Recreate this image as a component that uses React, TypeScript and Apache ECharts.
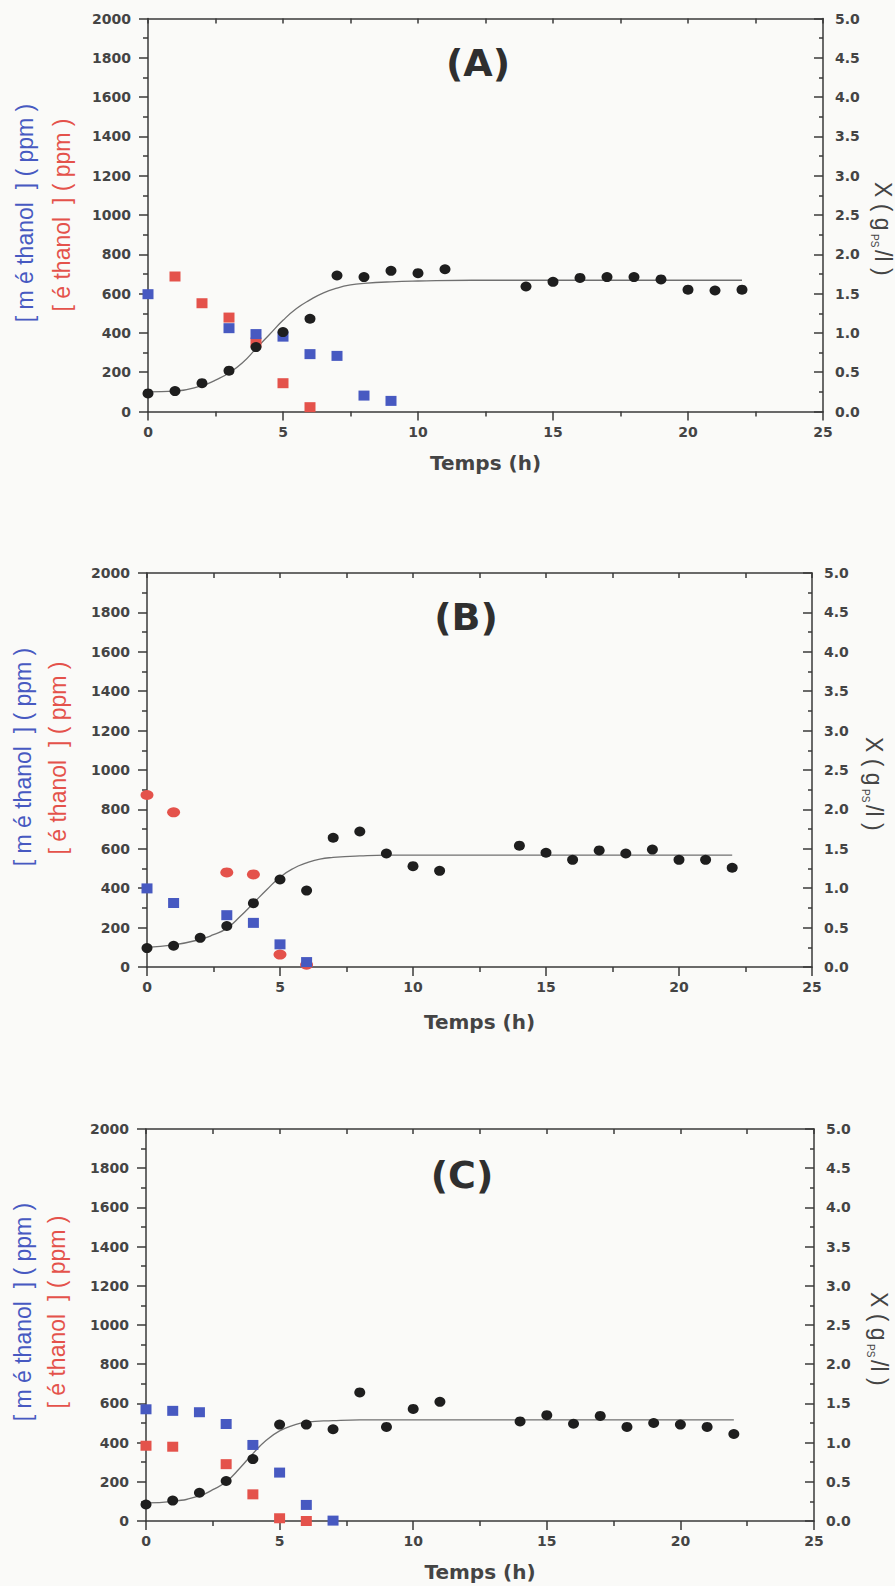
import React, { useEffect, useRef } from "react";
import * as echarts from "echarts";

// ---------- DATA ----------
const panelTitles = ["(A)", "(B)", "(C)"];
const xAxisName = "Temps (h)";

// biomass sampling times (h)
const timeX = [0, 1, 2, 3, 4, 5, 6, 7, 8, 9, 10, 11, 14, 15, 16, 17, 18, 19, 20, 21, 22];

// Panel A
const biomassA = [0.23, 0.26, 0.36, 0.52, 0.82, 1.01, 1.18, 1.73, 1.71, 1.79, 1.76, 1.81, 1.59, 1.65, 1.7, 1.71, 1.71, 1.68, 1.55, 1.54, 1.55];
const methTimeA = [0, 3, 4, 5, 6, 7, 8, 9];
const methA = [597, 424, 394, 381, 292, 283, 81, 54];
const ethTimeA = [1, 2, 3, 4, 5, 6];
const ethA = [687, 551, 478, 351, 144, 22];
const fitTimeA = [0, 1, 2, 2.5, 3, 3.5, 4, 4.5, 5, 5.5, 6, 6.5, 7, 7.5, 8, 9, 10, 12, 15, 22];
const fitA = [0.25, 0.26, 0.33, 0.4, 0.49, 0.62, 0.8, 0.98, 1.16, 1.31, 1.42, 1.51, 1.57, 1.61, 1.63, 1.65, 1.66, 1.67, 1.67, 1.67];

// Panel B
const biomassB = [0.24, 0.27, 0.37, 0.52, 0.81, 1.11, 0.97, 1.64, 1.72, 1.44, 1.28, 1.22, 1.54, 1.45, 1.36, 1.48, 1.44, 1.49, 1.36, 1.36, 1.26];
const methTimeB = [0, 1, 3, 4, 5, 6];
const methB = [399, 325, 263, 224, 115, 25];
const ethTimeB = [0, 1, 3, 4, 5, 6];
const ethB = [873, 785, 480, 470, 63, 12];
const fitTimeB = [0, 1, 2, 2.5, 3, 3.5, 4, 4.5, 5, 5.5, 6, 6.5, 7, 8, 9, 10, 15, 22];
const fitB = [0.25, 0.28, 0.35, 0.41, 0.49, 0.64, 0.81, 0.98, 1.14, 1.25, 1.32, 1.37, 1.39, 1.41, 1.42, 1.42, 1.42, 1.42];

// Panel C
const biomassC = [0.21, 0.26, 0.36, 0.51, 0.79, 1.23, 1.23, 1.17, 1.64, 1.2, 1.43, 1.52, 1.27, 1.35, 1.24, 1.34, 1.2, 1.25, 1.23, 1.2, 1.11];
const methTimeC = [0, 1, 2, 3, 4, 5, 6, 7];
const methC = [570, 562, 555, 495, 388, 247, 82, 2];
const ethTimeC = [0, 1, 3, 4, 5, 6];
const ethC = [384, 379, 290, 136, 14, 0];
const fitTimeC = [0, 1, 2, 2.5, 3, 3.5, 4, 4.5, 5, 5.5, 6, 7, 8, 10, 15, 22];
const fitC = [0.23, 0.25, 0.32, 0.4, 0.5, 0.67, 0.86, 1.03, 1.15, 1.22, 1.26, 1.28, 1.29, 1.29, 1.29, 1.29];

// ---------- LAYOUT / STYLE ----------
const grids = [
  { left: 148, top: 18.5, width: 675, height: 393 },
  { left: 147, top: 573, width: 665, height: 394 },
  { left: 146, top: 1129, width: 668, height: 392 },
];
const titlePos = [
  [478, 63],
  [466, 617],
  [462, 1175],
];
const nameGaps = [41, 45, 41];
const leftNamePos = [
  { blue: [25, 213], red: [62, 215] },
  { blue: [23, 757], red: [58, 758] },
  { blue: [23, 1312], red: [57, 1312] },
];
const rightNamePos = [
  [883, 182],
  [874, 737],
  [879, 1292],
];

const AXIS = "#3a3a3a";
const LABEL = "#444444";
const BLUE = "#4759c1";
const RED = "#e4524b";
const BLACK = "#1e1e1e";
const FIT = "#707070";

const zip = (a: number[], b: number[]) => a.map((v, i) => [v, b[i]]);

const panels = [
  { bio: biomassA, mt: methTimeA, m: methA, et: ethTimeA, e: ethA, ft: fitTimeA, f: fitA, ethSym: "rect" },
  { bio: biomassB, mt: methTimeB, m: methB, et: ethTimeB, e: ethB, ft: fitTimeB, f: fitB, ethSym: "circle" },
  { bio: biomassC, mt: methTimeC, m: methC, et: ethTimeC, e: ethC, ft: fitTimeC, f: fitC, ethSym: "rect" },
];

function buildOption() {
  const lineStyle = { color: AXIS, width: 1.5 };
  const tickFont = { fontFamily: "DejaVu Sans", fontWeight: "bold" as const, fontSize: 14, color: LABEL };
  const xAxis: any[] = [];
  const yAxis: any[] = [];
  const series: any[] = [];
  const graphic: any[] = [];

  grids.forEach((_, i) => {
    xAxis.push({
      type: "value", gridIndex: i, position: "bottom", min: 0, max: 25, interval: 5,
      axisLine: { show: true, onZero: false, lineStyle },
      axisTick: { show: true, inside: false, length: 9, lineStyle },
      minorTick: { show: true, splitNumber: 2, length: 5, lineStyle },
      axisLabel: { margin: 13, ...tickFont, formatter: (v: number) => String(v) },
      splitLine: { show: false },
      name: xAxisName, nameLocation: "middle", nameGap: nameGaps[i],
      nameTextStyle: { fontFamily: "DejaVu Sans", fontWeight: "bold", fontSize: 20, color: LABEL },
    });
    xAxis.push({
      type: "value", gridIndex: i, position: "top", min: 0, max: 25, interval: 2.5,
      axisLine: { show: true, onZero: false, lineStyle },
      axisTick: { show: true, inside: true, length: 5, lineStyle },
      axisLabel: { show: false },
      splitLine: { show: false },
    });
    yAxis.push({
      type: "value", gridIndex: i, position: "left", min: 0, max: 2000, interval: 200,
      axisLine: { show: true, onZero: false, lineStyle },
      axisTick: { show: true, inside: false, length: 9, lineStyle },
      minorTick: { show: true, splitNumber: 2, length: 5, lineStyle },
      axisLabel: { margin: 17, ...tickFont, formatter: (v: number) => String(v) },
      splitLine: { show: false },
    });
    yAxis.push({
      type: "value", gridIndex: i, position: "right", min: 0, max: 5, interval: 0.5,
      axisLine: { show: true, onZero: false, lineStyle },
      axisTick: { show: true, inside: true, length: 9, lineStyle },
      minorTick: { show: true, splitNumber: 2, length: 4, lineStyle },
      axisLabel: { margin: 12, ...tickFont, formatter: (v: number) => v.toFixed(1) },
      splitLine: { show: false },
    });

    const p = panels[i];
    series.push({
      type: "line", name: "fit", xAxisIndex: 2 * i, yAxisIndex: 2 * i + 1,
      data: zip(p.ft, p.f), smooth: 0.5, showSymbol: false, symbol: "none",
      lineStyle: { color: FIT, width: 1.3 }, silent: true, z: 1,
    });
    series.push({
      type: "scatter", name: "éthanol", xAxisIndex: 2 * i, yAxisIndex: 2 * i,
      data: zip(p.et, p.e), symbol: p.ethSym, symbolSize: p.ethSym === "circle" ? [13, 10] : [11, 10],
      itemStyle: { color: RED, opacity: 1 }, z: 2,
    });
    series.push({
      type: "scatter", name: "méthanol", xAxisIndex: 2 * i, yAxisIndex: 2 * i,
      data: zip(p.mt, p.m), symbol: "rect", symbolSize: [11, 10],
      itemStyle: { color: BLUE, opacity: 1 }, z: 3,
    });
    series.push({
      type: "scatter", name: "X", xAxisIndex: 2 * i, yAxisIndex: 2 * i + 1,
      data: zip(timeX, p.bio), symbol: "circle", symbolSize: [11, 10],
      itemStyle: { color: BLACK, opacity: 1 }, z: 4,
    });

    // panel title
    graphic.push({
      type: "text", x: titlePos[i][0], y: titlePos[i][1],
      style: {
        text: panelTitles[i], fill: "#2f2f2f", fontFamily: "DejaVu Sans", fontWeight: "bold", fontSize: 38,
        align: "center", verticalAlign: "middle", textAlign: "center", textVerticalAlign: "middle",
      },
    });
    // left axis names
    const ln = leftNamePos[i];
    graphic.push({
      type: "text", x: ln.blue[0], y: ln.blue[1], rotation: Math.PI / 2,
      style: {
        text: "[ m é thanol  ] ( ppm )", fill: BLUE, fontFamily: "Liberation Sans", fontSize: 23,
        align: "center", verticalAlign: "middle", textAlign: "center", textVerticalAlign: "middle",
      },
    });
    graphic.push({
      type: "text", x: ln.red[0], y: ln.red[1], rotation: Math.PI / 2,
      style: {
        text: "[ é thanol  ] ( ppm )", fill: RED, fontFamily: "Liberation Sans", fontSize: 23,
        align: "center", verticalAlign: "middle", textAlign: "center", textVerticalAlign: "middle",
      },
    });
    // right axis name: X ( g_PS /l )
    const rn = rightNamePos[i];
    const base = { fill: LABEL, fontFamily: "Liberation Sans", verticalAlign: "middle", textVerticalAlign: "middle", align: "left", textAlign: "left" };
    graphic.push({
      type: "group", x: rn[0], y: rn[1], rotation: -Math.PI / 2,
      children: [
        { type: "text", x: 0, y: 0, style: { ...base, text: "X ( g", fontSize: 23 } },
        { type: "text", x: 52, y: 9, style: { ...base, text: "PS", fontSize: 10 } },
        { type: "text", x: 68, y: 0, style: { ...base, text: "/l )", fontSize: 23 } },
      ],
    });
  });

  return {
    animation: false,
    backgroundColor: "#fafaf8",
    grid: grids.map((g) => ({ ...g, containLabel: false })),
    xAxis,
    yAxis,
    series,
    graphic,
  };
}

export default function App() {
  const ref = useRef<HTMLDivElement>(null);
  useEffect(() => {
    if (!ref.current) return;
    const chart = echarts.init(ref.current, undefined, { renderer: "svg" });
    chart.setOption(buildOption() as any);
    return () => chart.dispose();
  }, []);
  return (
    <div
      ref={ref}
      style={{ position: "absolute", left: 0, top: 0, width: 895, height: 1586, background: "#fafaf8" }}
    />
  );
}
